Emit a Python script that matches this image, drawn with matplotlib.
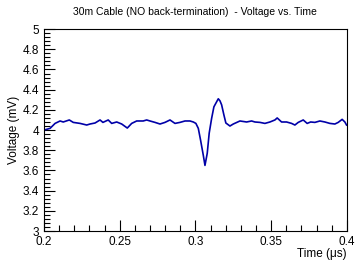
import matplotlib
matplotlib.use("Agg")
import matplotlib.pyplot as plt
from matplotlib.ticker import MultipleLocator, FormatStrFormatter

plt.rcParams['font.family'] = ['Liberation Sans', 'DejaVu Sans']

# waveform (time in us, voltage in mV)
time_us = [0.2000, 0.2040, 0.2073, 0.2106, 0.2127, 0.2167, 0.2193, 0.2238, 0.2282, 0.2304,
           0.2337, 0.2370, 0.2389, 0.2424, 0.2447, 0.2480, 0.2513, 0.2550, 0.2579, 0.2612,
           0.2655, 0.2678, 0.2700, 0.2733, 0.2766, 0.2799, 0.2832, 0.2865, 0.2898, 0.2931,
           0.2964, 0.2986, 0.3003, 0.3019, 0.3034, 0.3052, 0.3063, 0.3078, 0.3091, 0.3107,
           0.3122, 0.3140, 0.3151, 0.3162, 0.3173, 0.3188, 0.3201, 0.3228, 0.3250, 0.3294,
           0.3338, 0.3371, 0.3393, 0.3426, 0.3459, 0.3492, 0.3525, 0.3540, 0.3569, 0.3602,
           0.3635, 0.3657, 0.3679, 0.3712, 0.3738, 0.3761, 0.3789, 0.3822, 0.3855, 0.3888,
           0.3921, 0.3943, 0.3969, 0.3987, 0.3998]
voltage_mv = [4.000, 4.017, 4.066, 4.090, 4.080, 4.100, 4.076, 4.066, 4.050, 4.060,
              4.070, 4.100, 4.076, 4.100, 4.066, 4.080, 4.060, 4.020, 4.066, 4.090,
              4.090, 4.100, 4.090, 4.076, 4.060, 4.076, 4.100, 4.066, 4.076, 4.090,
              4.090, 4.080, 4.066, 4.017, 3.900, 3.750, 3.650, 3.770, 3.970, 4.116,
              4.230, 4.280, 4.310, 4.290, 4.250, 4.150, 4.070, 4.040, 4.060, 4.090,
              4.080, 4.090, 4.080, 4.076, 4.066, 4.080, 4.100, 4.120, 4.080, 4.080,
              4.066, 4.050, 4.076, 4.100, 4.066, 4.080, 4.076, 4.090, 4.080, 4.066,
              4.060, 4.076, 4.106, 4.080, 4.050]

fig = plt.figure(figsize=(3.55, 2.6), dpi=100)
ax = fig.add_axes([0.124, 0.1115, 0.853, 0.7765])

ax.plot(time_us, voltage_mv, color='#0000a8', linewidth=1.2)

ax.set_xlim(0.2, 0.4)
ax.set_ylim(3, 5)

# ROOT-like ticks: inside, only on left and bottom
ax.xaxis.set_major_locator(MultipleLocator(0.05))
ax.xaxis.set_minor_locator(MultipleLocator(0.01))
ax.yaxis.set_major_locator(MultipleLocator(0.2))
ax.yaxis.set_minor_locator(MultipleLocator(0.04))
ax.xaxis.set_major_formatter(FormatStrFormatter('%g'))
ax.yaxis.set_major_formatter(FormatStrFormatter('%g'))
ax.tick_params(which='both', direction='in', top=False, right=False, labelsize=8.5, width=0.8)
ax.tick_params(which='major', length=8)
ax.tick_params(which='minor', length=4)
for s in ax.spines.values():
    s.set_linewidth(0.8)

ax.set_title("30m Cable (NO back-termination)  - Voltage vs. Time", fontsize=7.5, pad=10)
ax.set_xlabel("Time (\u03bcs)", fontsize=8.5, loc='right', labelpad=0)
ax.set_ylabel("Voltage (mV)", fontsize=8.5, loc='center', labelpad=2)

fig.savefig("out.png", dpi=100)
